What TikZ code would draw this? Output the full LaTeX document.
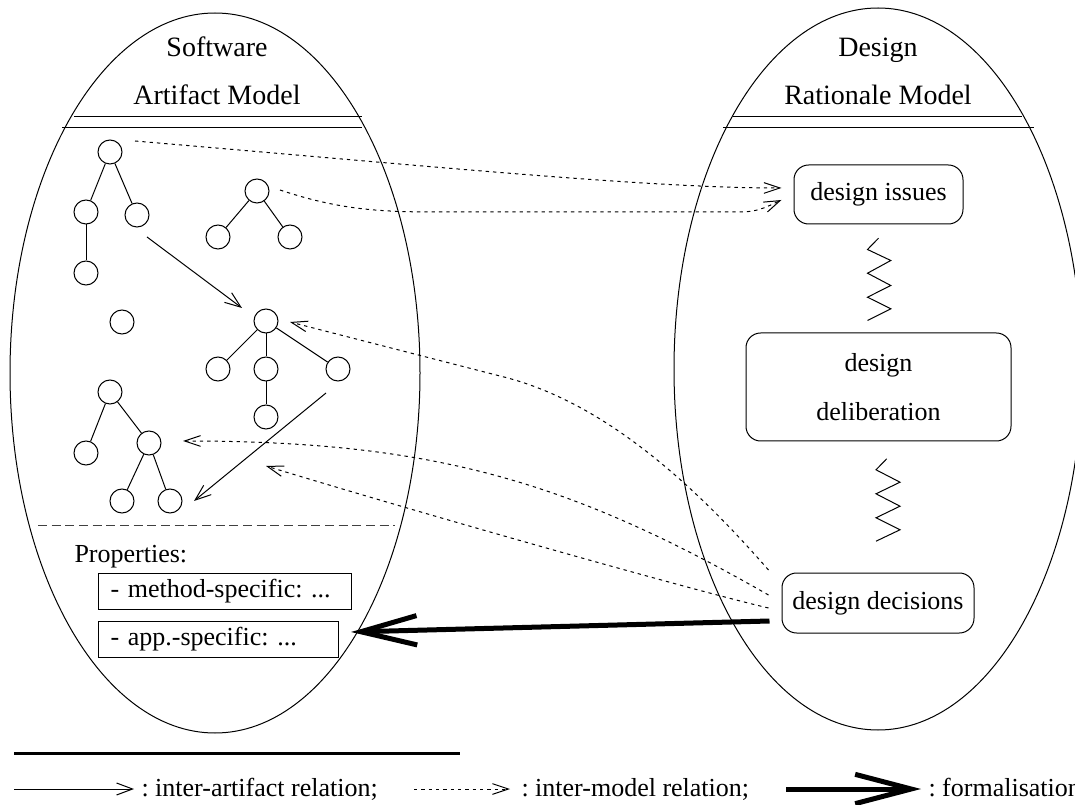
\documentclass[tikz,border=0pt]{standalone}
\usepackage{fontspec}
\setmainfont{Liberation Serif}
\usetikzlibrary{arrows.meta,calc}
\frenchspacing

\tikzset{
  txt/.style={inner sep=0pt},
  ttl/.style={inner sep=0pt,anchor=base,font=\fontsize{21pt}{25pt}\selectfont},
  tnode/.style={circle,draw,minimum size=18pt,inner sep=0pt},
  rbox/.style={draw,rounded corners=11pt,align=center,inner sep=2pt},
  pbox/.style={draw,anchor=west,align=left,inner xsep=9pt,minimum height=27pt},
  artrel/.style={-{Straight Barb[length=12pt,width=9pt]}},
  modrel/.style={dash pattern=on 2.5pt off 3pt,-{Straight Barb[length=12pt,width=8pt]}},
  formrel/.style={line width=3.75pt,-{Straight Barb[length=42pt,width=22pt]}},
  sepline/.style={dash pattern=on 6.75pt off 3.5pt,draw=black!75},
  zig/.style={line width=0.75pt}
}

\begin{document}
\begin{tikzpicture}[x=0.75pt,y=0.75pt,yscale=-1,xscale=1,line width=0.75pt,font=\fontsize{19.5pt}{23pt}\selectfont]
\useasboundingbox (0,0) rectangle (1075,805);

%Ellipses
\draw (215,373) ellipse [x radius=205, y radius=360];
\draw (878,369) ellipse [x radius=204, y radius=361];

% Titles
\node[ttl] (samA) at (217,57) {Software};
\node[ttl] (samB) at (217,105) {Artifact Model};
\node[ttl] (drmA) at (878,57) {Design};
\node[ttl] (drmB) at (878,105) {Rationale Model};

%Double lines
\draw (74,117) -- (362,117);
\draw (62,128) -- (362,128);
\draw (733,117) -- (1022,117);
\draw (723,128) -- (1034,128);

%Tree 1
\node[tnode] (a1) at (110,152) {};
\node[tnode] (a2) at (86,212) {};
\node[tnode] (a3) at (137,215) {};
\node[tnode] (a4) at (86,273) {};
\draw (a1) -- (a2);
\draw (a1) -- (a3);
\draw (a2) -- (a4);

%Tree 2
\node[tnode] (b1) at (257,191) {};
\node[tnode] (b2) at (218,237) {};
\node[tnode] (b3) at (290,237) {};
\draw (b1) -- (b2);
\draw (b1) -- (b3);

%Single node
\node[tnode] (c1) at (122,322) {};

%Tree 3
\node[tnode] (d1) at (266,321) {};
\node[tnode] (d2) at (218,369) {};
\node[tnode] (d3) at (266,369) {};
\node[tnode] (d4) at (338,369) {};
\node[tnode] (d5) at (266,417) {};
\draw (d1) -- (d2);
\draw (d1) -- (d3);
\draw (d1) -- (d4);
\draw (d3) -- (d5);

%Tree 4
\node[tnode] (e1) at (110,392) {};
\node[tnode] (e2) at (86,453) {};
\node[tnode] (e3) at (149,443) {};
\node[tnode] (e4) at (122,501) {};
\node[tnode] (e5) at (170,501) {};
\draw (e1) -- (e2);
\draw (e1) -- (e3);
\draw (e3) -- (e4);
\draw (e3) -- (e5);

%Inter-artifact relations
\draw[artrel] ($(a3)+(10,22)$) -- ($(d1)+(-24,-13)$);
\draw[artrel] ($(d4)+(-12,24)$) -- ($(e5)+(24,0)$);
\coordinate (rel) at (266,466);

%Separator
\draw[sepline] (38,525) -- (395,525);

% Properties
\node[txt,anchor=base west] (prop) at (74,562) {Properties:};
\node[pbox,text width=171.75pt] (meth) at (98,591) {- method-specific: ...};
\node[pbox,text width=162pt] (app) at (98,639) {- app.-specific: ...};

% Rationale boxes
\node[rbox,minimum width=126.75pt,minimum height=44.25pt] (issues) at (878.5,194.5) {design issues};
\node[rbox,minimum width=198.75pt,minimum height=81pt,font=\fontsize{19.5pt}{36.75pt}\selectfont] (dlib) at (878.5,387) {design\\deliberation};
\node[rbox,minimum width=144pt,minimum height=45pt] (dd) at (878,603) {design decisions};

%Zigzags
\draw[zig] (issues.south) ++(0,13.7) -- ++(-11,11.3) -- ++(23.3,11) -- ++(-23.3,12.7) -- ++(23.3,12.3) -- ++(-23.3,11.7) -- ++(23.3,11.6) -- ++(-23.3,11.7);
\draw[zig] (dlib.south) ++(8.2,17.3) -- ++(-10.7,11) -- ++(24,12.4) -- ++(-24,11.6) -- ++(24,12.4) -- ++(-24,11.6) -- ++(24,12) -- ++(-24,11.4);

%Inter-model relations
\draw[modrel] ($(a1)+(25,-11)$) .. controls (450,168) and (650,188) .. ($(issues.west)+(-12,-6.5)$);
\draw[modrel] ($(b1)+(23,-1)$) .. controls (340,210) and (380,212) .. (440,212) -- (740,212) .. controls (760,212) and (770,205) .. ($(issues.west)+(-12,5.5)$);
\draw[modrel] ($(dd.west)+(-13,-33)$) .. controls (690,480) and (600,400) .. (500,376) -- ($(d1)+(24,1)$);
\draw[modrel] ($(dd.west)+(-13,-8)$) .. controls (569,481) and (433,441) .. ($(e3)+(34,-2)$);
\draw[modrel] ($(dd.west)+(-13,5)$) .. controls (700,592) and (450,522) .. (rel);

%Formalisation
\draw[formrel] ($(dd.west)+(-12,18)$) -- ($(app.east)+(12,-7)$);

% Legend
\draw[line width=2.25pt] (14,753) -- (460,753);
\coordinate (lg1) at (14,789);
\node[txt,anchor=base west] (lgA) at (141,796) {: inter-artifact relation;};
\draw[artrel] (lg1) -- ($(lgA.base west)+(-7,-7)$);
\coordinate (lg2) at (414,789);
\node[txt,anchor=base west] (lgB) at (521,796) {: inter-model relation;};
\draw[modrel] (lg2) -- ($(lgB.base west)+(-11,-7)$);
\coordinate (lg3) at (786,789);
\node[txt,anchor=base west] (lgC) at (928,796) {: formalisation};
\draw[formrel] (lg3) -- ($(lgC.base west)+(-7,-7)$);

\end{tikzpicture}
\end{document}
